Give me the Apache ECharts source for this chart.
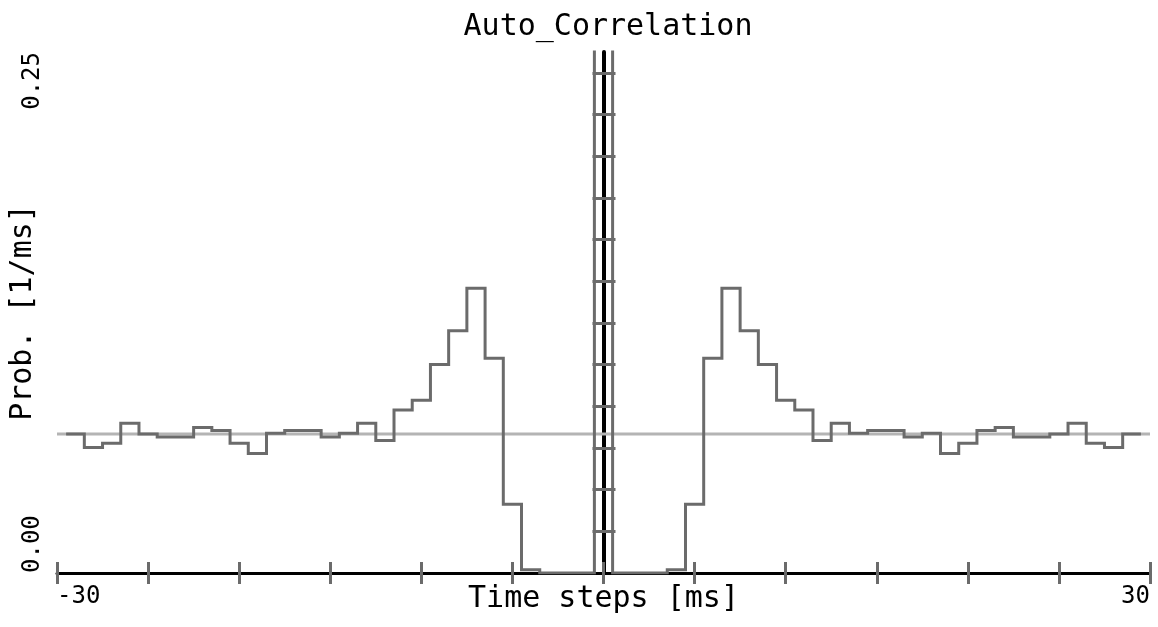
<!DOCTYPE html>
<html>
<head>
<meta charset="utf-8">
<title>Auto_Correlation</title>
<script src="https://cdn.jsdelivr.net/npm/echarts@6/dist/echarts.min.js"></script>
<style>
  html, body { margin: 0; padding: 0; background: #ffffff; }
  #chart { width: 1158px; height: 627px; }
</style>
</head>
<body>
<div id="chart"></div>
<script>
// Lag bins (ms), one per histogram bin
const lags = [
  -29, -28, -27, -26, -25, -24, -23, -22, -21, -20,
  -19, -18, -17, -16, -15, -14, -13, -12, -11, -10,
  -9, -8, -7, -6, -5, -4, -3, -2, -1, 0,
  1, 2, 3, 4, 5, 6, 7, 8, 9, 10,
  11, 12, 13, 14, 15, 16, 17, 18, 19, 20,
  21, 22, 23, 24, 25, 26, 27, 28, 29
];

// Auto-correlation probability per bin [1/ms]; the zero-lag bin runs off the top
const probs = [
  0.0667, 0.0602, 0.0623, 0.0719, 0.0667, 0.0652, 0.0652, 0.0698, 0.0684, 0.0623,
  0.0574, 0.0671, 0.0684, 0.0684, 0.0652, 0.0671, 0.0719, 0.0636, 0.0782, 0.0829,
  0.1000, 0.1162, 0.1366, 0.1031, 0.0330, 0.0015, 0, 0, 0, 1.0,
  0, 0, 0, 0.0015, 0.0330, 0.1031, 0.1366, 0.1162, 0.1000, 0.0829,
  0.0782, 0.0636, 0.0719, 0.0671, 0.0684, 0.0684, 0.0652, 0.0671, 0.0574, 0.0623,
  0.0684, 0.0698, 0.0652, 0.0652, 0.0667, 0.0719, 0.0623, 0.0602, 0.0667
];

// Mean firing probability (flat reference level)
const meanRate = 0.0667;

// Axis ranges and tick values
const xRange = [-30, 30];
const xTickStep = 5;
const xLabelValues = [-30, 30];
const yRange = [0, 0.25];
const yLabelValues = [0, 0.25];
const yTickValues = [0.02, 0.04, 0.06, 0.08, 0.10, 0.12, 0.14, 0.16, 0.18, 0.20, 0.22, 0.24];

const binWidth = 1;

// Histogram outline: left edge of every bin, plus the right edge of the last one
const stepData = lags.map((lag, i) => [lag - binWidth / 2, probs[i]]);
stepData.push([lags[lags.length - 1] + binWidth / 2, probs[probs.length - 1]]);

const FONT = 'DejaVu Sans Mono';
const DARK = '#6b6b6b';
const LIGHT = '#b4b4b4';

const chart = echarts.init(document.getElementById('chart'), null, { renderer: 'canvas' });

const baseY = {
  type: 'value',
  min: yRange[0],
  max: yRange[1],
  splitLine: { show: false },
  axisLabel: { show: false },
  axisTick: { show: false },
  axisLine: { show: false, onZero: false }
};

chart.setOption({
  animation: false,
  backgroundColor: '#ffffff',
  title: {
    text: 'Auto_Correlation',
    left: 603,
    top: 7,
    textAlign: 'center',
    textStyle: { fontFamily: FONT, fontSize: 30, fontWeight: 'normal', color: '#000000' }
  },
  grid: { left: 56, right: 8, top: 52, bottom: 54, containLabel: false },
  xAxis: [
    {
      type: 'value',
      min: xRange[0],
      max: xRange[1],
      interval: xTickStep,
      position: 'bottom',
      name: 'Time steps [ms]',
      nameLocation: 'middle',
      nameGap: 11,
      nameMoveOverlap: false,
      nameTextStyle: { fontFamily: FONT, fontSize: 30, color: '#000000', verticalAlign: 'top' },
      splitLine: { show: false },
      axisLine: { show: true, lineStyle: { color: '#000000', width: 3 } },
      axisTick: { show: true, inside: false, length: 11, lineStyle: { color: DARK, width: 3 } },
      axisLabel: {
        show: true,
        customValues: xLabelValues,
        alignMinLabel: 'left',
        alignMaxLabel: 'right',
        margin: 12,
        fontFamily: FONT,
        fontSize: 24,
        color: '#000000',
        formatter: v => String(v)
      }
    },
    {
      type: 'value',
      min: xRange[0],
      max: xRange[1],
      interval: xTickStep,
      position: 'bottom',
      splitLine: { show: false },
      axisLine: { show: false },
      axisTick: { show: true, inside: true, length: 11, lineStyle: { color: DARK, width: 3 } },
      axisLabel: { show: false }
    }
  ],
  yAxis: [
    Object.assign({}, baseY, {
      position: 'left',
      name: 'Prob. [1/ms]',
      nameLocation: 'middle',
      nameGap: 19,
      nameRotate: 90,
      nameMoveOverlap: false,
      nameTextStyle: { fontFamily: FONT, fontSize: 30, color: '#000000' },
      axisLabel: {
        show: true,
        customValues: yLabelValues,
        rotate: 90,
        alignMinLabel: 'left',
        alignMaxLabel: 'right',
        margin: 12,
        fontFamily: FONT,
        fontSize: 24,
        color: '#000000',
        formatter: v => v.toFixed(2)
      }
    }),
    // vertical axis through lag 0, ticks reaching to the right
    Object.assign({}, baseY, {
      position: 'left',
      axisLine: { show: true, onZero: true, lineStyle: { color: '#000000', width: 4 } },
      axisTick: { show: true, inside: true, length: 12, customValues: yTickValues, lineStyle: { color: DARK, width: 3 } }
    }),
    // same axis, ticks reaching to the left
    Object.assign({}, baseY, {
      position: 'left',
      axisLine: { show: false, onZero: true },
      axisTick: { show: true, inside: false, length: 11, customValues: yTickValues, lineStyle: { color: DARK, width: 3 } }
    })
  ],
  series: [
    {
      name: 'mean',
      type: 'line',
      xAxisIndex: 0,
      yAxisIndex: 0,
      data: [[xRange[0], meanRate], [xRange[1], meanRate]],
      showSymbol: false,
      symbol: 'none',
      lineStyle: { color: LIGHT, width: 3 },
      z: 1,
      silent: true
    },
    {
      name: 'Auto_Correlation',
      type: 'line',
      xAxisIndex: 0,
      yAxisIndex: 0,
      step: 'end',
      data: stepData,
      showSymbol: false,
      symbol: 'none',
      clip: true,
      lineStyle: { color: DARK, width: 3, join: 'miter', cap: 'butt' },
      z: 3,
      silent: true
    }
  ]
});
</script>
</body>
</html>
